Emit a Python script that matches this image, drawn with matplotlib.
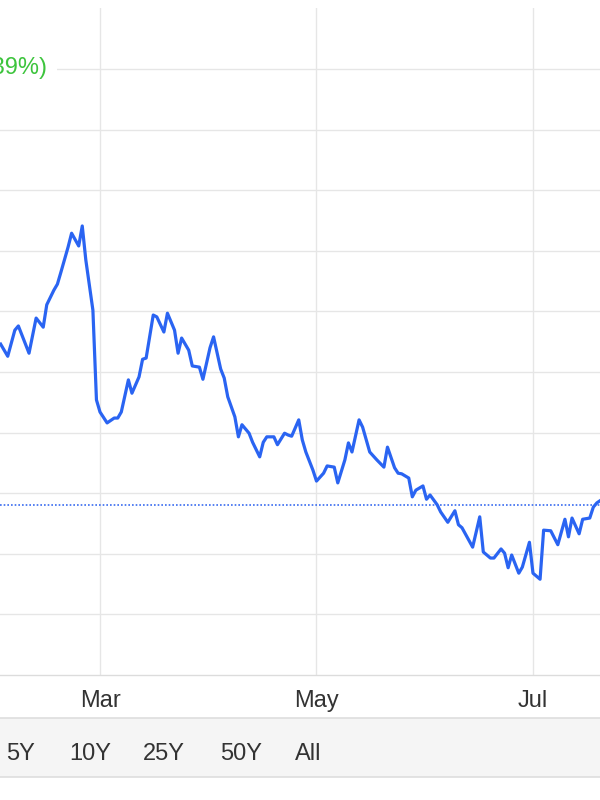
# Price chart (Feb - Jul) with range selector strip
import numpy as np
import pandas as pd
import matplotlib.pyplot as plt
import matplotlib.dates as mdates
from matplotlib.patches import Rectangle

# -------------------------------
# 1. Data
# -------------------------------
dates = [
    "2022-02-01", "2022-02-03", "2022-02-05", "2022-02-06", "2022-02-09", "2022-02-11",
    "2022-02-13", "2022-02-14", "2022-02-16", "2022-02-17", "2022-02-18", "2022-02-20",
    "2022-02-21", "2022-02-23", "2022-02-24", "2022-02-25", "2022-02-27", "2022-02-28",
    "2022-03-01", "2022-03-03", "2022-03-05", "2022-03-06", "2022-03-07", "2022-03-09",
    "2022-03-10", "2022-03-12", "2022-03-13", "2022-03-14", "2022-03-16", "2022-03-17",
    "2022-03-19", "2022-03-20", "2022-03-22", "2022-03-23", "2022-03-24", "2022-03-26",
    "2022-03-27", "2022-03-29", "2022-03-30", "2022-04-01", "2022-04-02", "2022-04-04",
    "2022-04-05", "2022-04-06", "2022-04-08", "2022-04-09", "2022-04-10", "2022-04-12",
    "2022-04-13", "2022-04-15", "2022-04-16", "2022-04-17", "2022-04-19", "2022-04-20",
    "2022-04-22", "2022-04-23", "2022-04-24", "2022-04-26", "2022-04-27", "2022-04-28",
    "2022-04-30", "2022-05-01", "2022-05-03", "2022-05-04", "2022-05-06", "2022-05-07",
    "2022-05-09", "2022-05-10", "2022-05-11", "2022-05-13", "2022-05-14", "2022-05-16",
    "2022-05-18", "2022-05-20", "2022-05-21", "2022-05-23", "2022-05-24", "2022-05-25",
    "2022-05-27", "2022-05-28", "2022-05-29", "2022-05-31", "2022-06-01", "2022-06-02",
    "2022-06-04", "2022-06-05", "2022-06-07", "2022-06-09", "2022-06-10", "2022-06-11",
    "2022-06-14", "2022-06-16", "2022-06-17", "2022-06-19", "2022-06-20", "2022-06-22",
    "2022-06-23", "2022-06-24", "2022-06-25", "2022-06-27", "2022-06-28", "2022-06-30",
    "2022-07-01", "2022-07-03", "2022-07-04", "2022-07-06", "2022-07-08", "2022-07-10",
    "2022-07-11", "2022-07-12", "2022-07-14", "2022-07-15", "2022-07-17", "2022-07-18",
    "2022-07-19", "2022-07-21",
]
prices = [
    25.46, 25.26, 25.69, 25.76, 25.31, 25.89, 25.74, 26.11, 26.35, 26.45, 26.65, 27.06,
    27.29, 27.08, 27.41, 26.85, 26.02, 24.54, 24.34, 24.16, 24.24, 24.24, 24.34, 24.87,
    24.65, 24.92, 25.21, 25.23, 25.94, 25.91, 25.66, 25.97, 25.69, 25.31, 25.56, 25.36,
    25.10, 25.08, 24.88, 25.40, 25.58, 25.05, 24.90, 24.59, 24.26, 23.93, 24.13, 23.99,
    23.84, 23.60, 23.84, 23.93, 23.93, 23.80, 23.99, 23.96, 23.94, 24.21, 23.88, 23.68,
    23.38, 23.20, 23.33, 23.45, 23.43, 23.17, 23.55, 23.83, 23.68, 24.21, 24.09, 23.68,
    23.55, 23.43, 23.76, 23.42, 23.33, 23.32, 23.25, 22.94, 23.05, 23.12, 22.90, 22.97,
    22.81, 22.69, 22.52, 22.71, 22.48, 22.43, 22.11, 22.61, 22.03, 21.93, 21.93, 22.08,
    22.01, 21.77, 21.98, 21.68, 21.78, 22.19, 21.68, 21.58, 22.39, 22.38, 22.15, 22.57,
    22.28, 22.59, 22.33, 22.57, 22.59, 22.77, 22.84, 22.92,
]
prev_close = 22.81
grid_levels = [21, 22, 23, 24, 25, 26, 27, 28, 29, 30]
month_ticks = ["2022-03-01", "2022-05-01", "2022-07-01"]
month_labels = ["Mar", "May", "Jul"]
range_labels = ["5Y", "10Y", "25Y", "50Y", "All"]
change_text = "+0.42 (+1.39%)"

# -------------------------------
# 2. Styling
# -------------------------------
plt.rcParams['font.family'] = ['Liberation Sans', 'DejaVu Sans']
line_color = "#2a64f2"
grid_color = "#e6e6e6"
text_color = "#333333"

# -------------------------------
# 3. Figure and axes
# -------------------------------
fig = plt.figure(figsize=(6, 8), dpi=100)
ax = fig.add_axes([0, 0.15625, 1, 0.83375])

x = pd.to_datetime(dates)
ax.plot(x, prices, color=line_color, linewidth=2.3, solid_joinstyle='round', zorder=3)
ax.axhline(prev_close, color="#3a6cf0", linewidth=1.2, linestyle=(0, (1, 1.2)), zorder=2)

mar1 = mdates.date2num(pd.Timestamp("2022-03-01"))
ax.set_xlim(mar1 - 100 / 3.549, mar1 + 500 / 3.549)
ax.set_ylim(20, 20 + 667 / 60.6)

ax.set_yticks(grid_levels)
ax.set_yticklabels([])
ax.set_xticks(pd.to_datetime(month_ticks))
ax.set_xticklabels(month_labels)
ax.tick_params(axis='both', length=0)
ax.tick_params(axis='x', labelsize=17, colors=text_color, pad=10.5)
ax.grid(True, color=grid_color, linewidth=1.0, zorder=0)
ax.set_axisbelow(True)

for side in ["top", "left", "right"]:
    ax.spines[side].set_visible(False)
ax.spines["bottom"].set_color("#dcdcdc")
ax.spines["bottom"].set_linewidth(1.0)

# change label at top left, partly cut off by the crop (as in the source)
ax.text(47 / 600, (800 - 60 - 133) / 667, change_text, transform=ax.transAxes,
        ha='right', va='center', fontsize=17, color="#3dc43d",
        bbox=dict(facecolor='white', edgecolor='none', pad=7), zorder=4)

# -------------------------------
# 4. Range selector strip
# -------------------------------
fig.patches.append(Rectangle((-0.01, 23 / 800), 1.02, 59 / 800, transform=fig.transFigure,
                             facecolor="#f5f5f5", edgecolor="#dedede", linewidth=1.2))
label_x = [21, 90, 164, 241, 308]
for lx, lab in zip(label_x, range_labels):
    fig.text(lx / 600, (800 - 754) / 800, lab, ha='center', va='center',
             fontsize=17, color=text_color)

# -------------------------------
# 5. Save
# -------------------------------
fig.savefig("out.png", dpi=100)
